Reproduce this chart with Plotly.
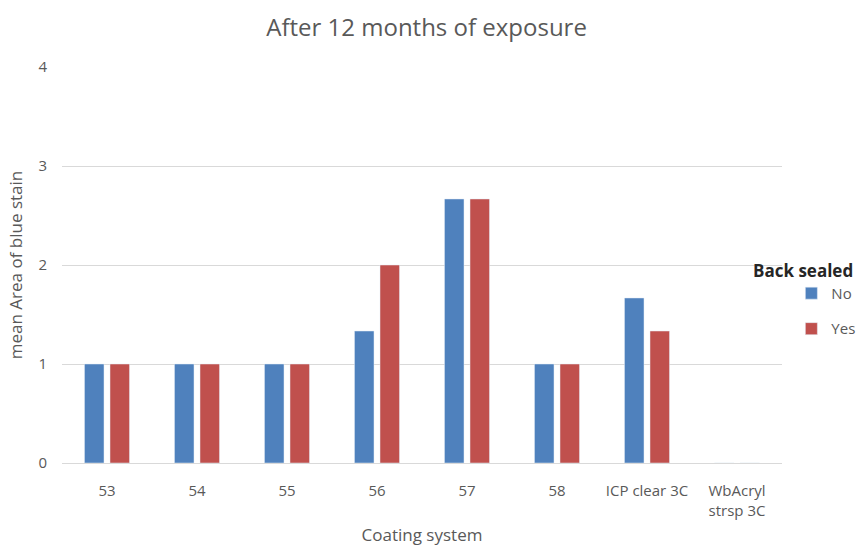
import plotly.graph_objects as go

# Mean area of blue stain per coating system, split by back-sealing
categories = ["53", "54", "55", "56", "57", "58", "ICP clear 3C", "WbAcryl<br>strsp 3C"]
no_values = [1.0, 1.0, 1.0, 1.333, 2.667, 1.0, 1.667, 0.0]
yes_values = [1.0, 1.0, 1.0, 2.0, 2.667, 1.0, 1.333, 0.0]
y_ticks = [0, 1, 2, 3, 4]

FONT = "Open Sans"
GREY = "#595959"

fig = go.Figure()
fig.add_trace(go.Bar(x=categories, y=no_values, name="No", marker_color="#4F81BD",
                     legendgroup="no"))
fig.add_trace(go.Bar(x=categories, y=yes_values, name="Yes", marker_color="#C0504D",
                     legendgroup="yes"))

fig.update_layout(
    width=860, height=546,
    margin=dict(l=62, r=78, t=67, b=83, autoexpand=False),
    paper_bgcolor="white", plot_bgcolor="white",
    font=dict(family=FONT, color=GREY, size=15),
    barmode="group", bargap=0.433, bargroupgap=0.235,
    title=dict(text="After 12 months of exposure", x=0.496, xanchor="center",
               y=0.949, yanchor="middle", font=dict(size=24, color=GREY, family=FONT)),
    xaxis=dict(
        title=dict(text="Coating system", font=dict(size=17, color=GREY), standoff=13),
        showline=True, linecolor="#D9D9D9", linewidth=1,
        ticks="", tickfont=dict(size=15, color=GREY),
        ticklabelstandoff=14,
    ),
    yaxis=dict(
        title=dict(text="mean Area of blue stain", font=dict(size=17, color=GREY), standoff=11),
        range=[0, 4], tickvals=y_ticks, showgrid=True, gridcolor="#D9D9D9", gridwidth=1,
        zeroline=False, ticks="", tickfont=dict(size=15, color=GREY),
        ticklabelstandoff=14,
    ),
    legend=dict(
        x=1.013, y=0.47, xanchor="left", yanchor="top",
        traceorder="grouped", tracegroupgap=13,
        font=dict(size=15, color=GREY), itemwidth=30,
        bgcolor="rgba(0,0,0,0)",
    ),
    annotations=[dict(
        text="<b>Back sealed</b>", xref="paper", yref="paper",
        x=(751 - 62) / 720, y=(463 - 270) / 396, xanchor="left", yanchor="middle",
        showarrow=False, font=dict(size=17, color="#262626", family=FONT),
    )],
)

fig.write_html("out.html")
